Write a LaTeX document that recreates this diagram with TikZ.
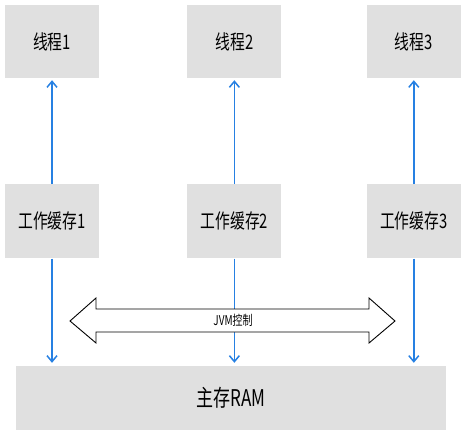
\documentclass[tikz,border=0pt]{standalone}
\usepackage{fontspec}
\setmainfont{Noto Sans CJK SC}[FakeStretch=0.74]
\usetikzlibrary{positioning,arrows.meta}
\definecolor{boxgray}{RGB}{224,224,224}
\definecolor{flowblue}{RGB}{38,128,226}

\begin{document}
\begin{tikzpicture}[
  x=1pt,y=-1pt,
  >={Straight Barb[length=6pt,width=10pt]},
  node distance=106pt and 88pt,
  block/.style={fill=boxgray,minimum width=94pt,minimum height=73pt,inner sep=0pt,
    text=black,font=\fontsize{20}{22}\selectfont},
  link/.style={->,line width=1.5pt,draw=flowblue}
]
  \useasboundingbox (0,0) rectangle (462,436);
  \node[block] (thread1) at (52,41.5) {线程1};
  \node[block,right=88pt of thread1] (thread2) {线程2};
  \node[block,right=85pt of thread2] (thread3) {线程3};
  \foreach \i in {1,2,3}
    \node[block,minimum height=74pt,below=of thread\i] (cache\i) {工作缓存\i};
  \node[block,minimum width=430pt,minimum height=64pt,
    font=\fontsize{23}{25}\selectfont] (ram) at (231,398) {主存RAM};
  \foreach \i in {1,2,3} {
    \draw[link,shorten >=2pt] (cache\i) -- (thread\i);
    \draw[link,shorten >=3pt] (cache\i) -- (cache\i.south |- ram.north);
  }
  \draw[fill=white,line width=0.9pt] (70,321) -- (96,298) -- (96,309) -- (369,309)
    -- (369,298) -- (395,321) -- (369,343) -- (369,332) -- (96,332) -- (96,343) -- cycle;
  \node[font=\fontsize{13.5}{15}\selectfont] (jvm) at (233,320.5) {JVM控制};
\end{tikzpicture}
\end{document}
